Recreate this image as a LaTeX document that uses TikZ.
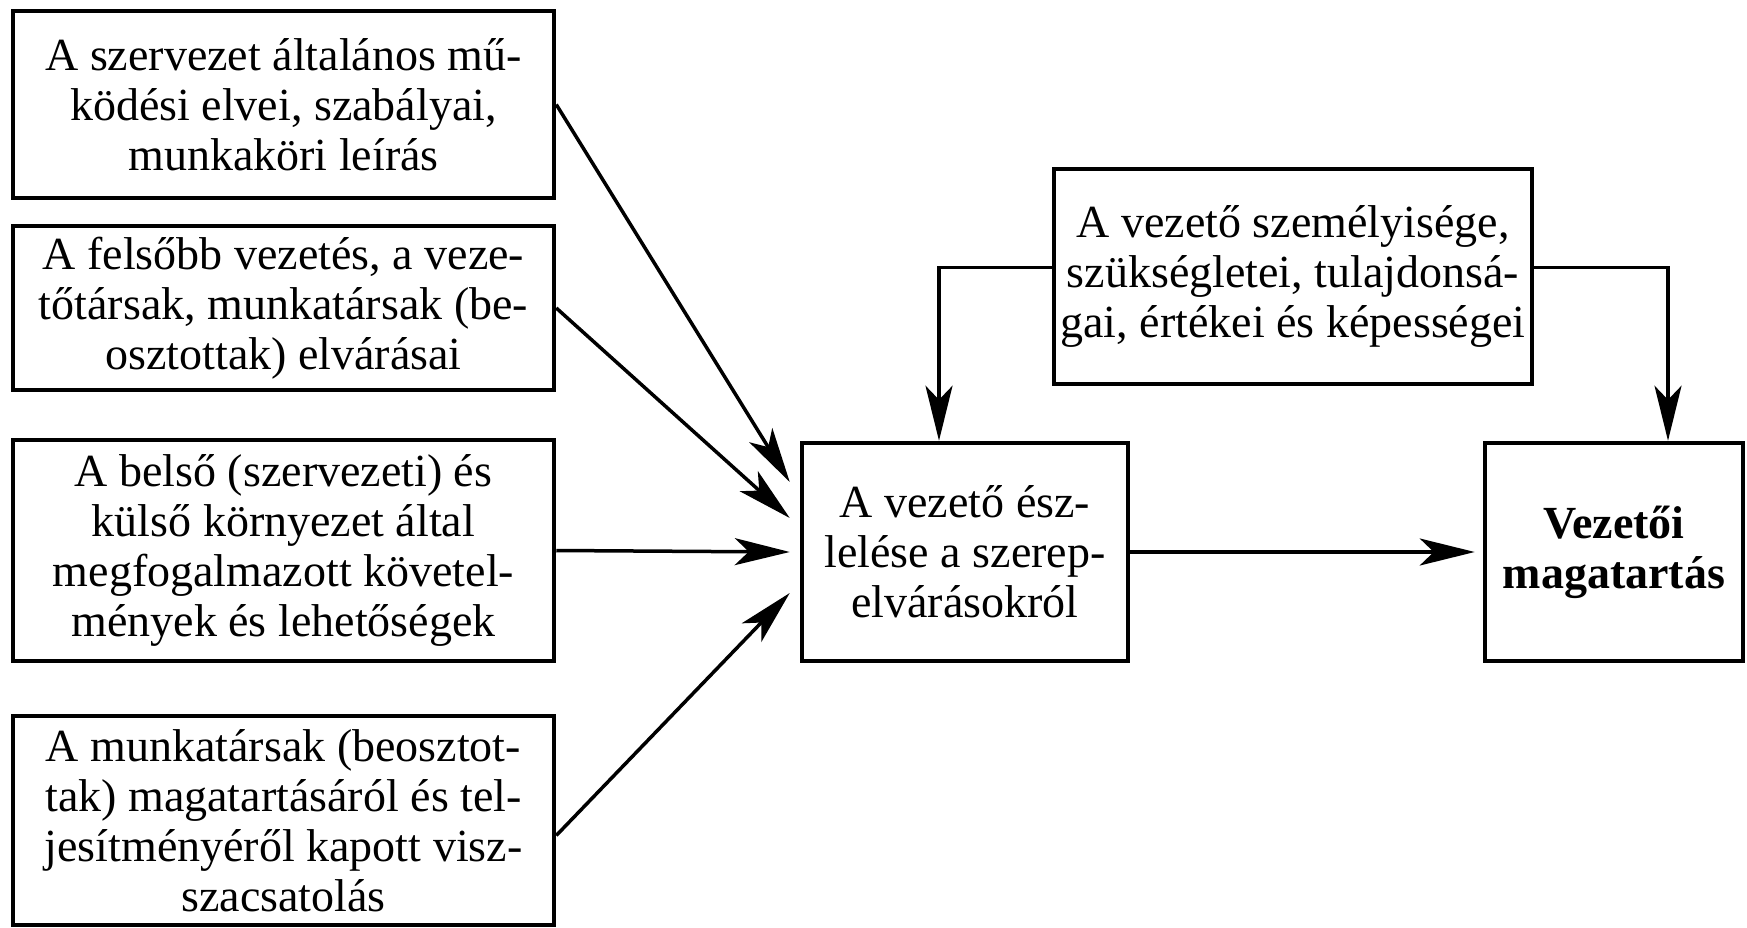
\documentclass[tikz,border=0pt]{standalone}
\usepackage{fontspec}
\setmainfont{Liberation Serif}
\usetikzlibrary{arrows.meta,calc}
\tikzset{
  box/.style={draw, line width=4.5pt, inner sep=0pt, align=center, font=\fontsize{46}{50}\selectfont},
  conn/.style={line width=3.5pt, -{Stealth[length=55pt,width=27pt,inset=14pt]}},
}
\begin{document}
\begin{tikzpicture}[x=1pt,y=-1pt]
\useasboundingbox (0,0) rectangle (1747,928);
\node[box, minimum width=541pt, minimum height=187pt] (b1) at (283.5,104.5)
  {A szervezet általános mű-\\ködési elvei, szabályai,\\munkaköri leírás};
\node[box, minimum width=541pt, minimum height=164pt] (b2) at (283.5,308)
  {A felsőbb vezetés, a veze-\\tőtársak, munkatársak (be-\\osztottak) elvárásai};
\node[box, minimum width=541pt, minimum height=221pt] (b3) at (283.5,550.5)
  {A belső (szervezeti) és\\külső környezet által\\megfogalmazott követel-\\mények és lehetőségek};
\node[box, minimum width=541pt, minimum height=209pt] (b4) at (283.5,820.5)
  {A munkatársak (beosztot-\\tak) magatartásáról és tel-\\jesítményéről kapott visz-\\szacsatolás};
\node[box, minimum width=326pt, minimum height=218pt] (c) at (965,552)
  {A vezető ész-\\lelése a szerep-\\elvárásokról};
\node[box, minimum width=478pt, minimum height=215pt] (t) at (1293,276.5)
  {A vezető személyisége,\\szükségletei, tulajdonsá-\\gai, értékei és képességei};
\node[box, minimum width=258pt, minimum height=218pt, font=\fontsize{46}{50}\selectfont\bfseries] (r) at (1614,552)
  {Vezetői\\magatartás};
\draw[conn] (b1.east) -- ($(c.west)+(-10,-70)$);
\draw[conn] (b2.east) -- ($(c.west)+(-10,-34)$);
\draw[conn] (b3.east) -- ($(c.west)+(-10,0)$);
\draw[conn] ($(b4.east)+(0,15)$) -- ($(c.west)+(-10,41)$);
\draw[conn] ($(t.west)+(0,-9)$) -| ($(c.north)+(-26,0)$);
\draw[conn] ($(t.east)+(0,-9)$) -| ($(r.north)+(54,0)$);
\draw[conn, shorten >=8pt] (c) -- (r);
\end{tikzpicture}
\end{document}
